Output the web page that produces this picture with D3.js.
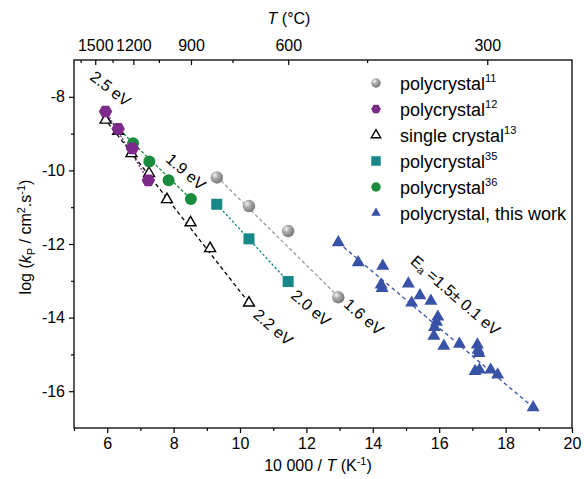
<!DOCTYPE html>
<html>
<head>
<meta charset="utf-8">
<script src="https://cdnjs.cloudflare.com/ajax/libs/d3/7.8.5/d3.min.js"></script>
<style>
  body { margin: 0; background: #fff; }
  text { font-family: "Liberation Sans", Arial, sans-serif; fill: #000; }
</style>
</head>
<body>
<div id="chart"></div>
<script>
// values: [10000/T (1/K), log kP]
var poly11 = [[9.30,-10.19],[10.27,-10.97],[11.45,-11.65],[12.96,-13.45]];
var poly12 = [[5.95,-8.40],[6.33,-8.87],[6.76,-9.40],[7.24,-10.27]];
var single13 = [[5.95,-8.63],[6.33,-8.93],[6.73,-9.54],[7.26,-10.08],[7.80,-10.79],[8.51,-11.42],[9.10,-12.12],[10.27,-13.60]];
var poly35 = [[9.30,-10.92],[10.27,-11.86],[11.45,-13.02]];
var poly36 = [[6.78,-9.26],[7.27,-9.76],[7.85,-10.27],[8.52,-10.78]];
var thisWork = [[12.96,-11.96],[13.56,-12.50],[14.30,-12.60],[14.25,-13.11],[14.28,-13.20],[15.07,-13.08],
  [15.42,-13.40],[15.75,-13.55],[15.17,-13.60],[15.96,-13.98],[15.92,-14.12],[15.86,-14.26],[15.84,-14.50],
  [16.14,-14.77],[16.61,-14.72],[17.15,-14.74],[17.17,-14.88],[17.20,-14.97],[17.08,-15.46],[17.21,-15.42],
  [17.55,-15.42],[17.76,-15.55],[18.83,-16.44]];

// Arrhenius fit lines (end points)
var fit11 = [[9.30,-10.17],[12.96,-13.43]];
var fit12 = [[5.95,-8.40],[7.24,-10.27]];
var fit13 = [[5.90,-8.57],[10.35,-13.69]];
var fit35 = [[9.30,-10.92],[11.45,-13.02]];
var fit36 = [[5.95,-8.53],[8.52,-10.78]];
var fitThis = [[12.96,-11.96],[18.83,-16.44]];

// activation energy labels: text, anchor x, anchor y
var eaText = ["2.5 eV","1.9 eV","2.2 eV","2.0 eV","1.6 eV"];
var eaX = [6.10, 8.37, 11.0, 12.14, 13.73];
var eaY = [-7.78, -10.04, -14.26, -13.74, -13.98];

var xTicks = [6,8,10,12,14,16,18,20];
var xMinor = [5,7,9,11,13,15,17,19];
var yTicks = [-8,-10,-12,-14,-16];
var yMinor = [-9,-11,-13,-15];
var tTicks = [1500,1200,900,600,300];     // deg C
var tMinor = [1650,1350,1050,750,450];

var legendNames = ["polycrystal","polycrystal","single crystal","polycrystal","polycrystal","polycrystal, this work"];
var legendRefs = ["11","12","13","35","36",""];

var colors = {gray:"#9b9b9b", purple:"#7d2a8a", teal:"#178787", green:"#1b8c3e", blue:"#3752a6"};

var margin = {top: 60, right: 12, bottom: 51, left: 74},
    width = 584 - margin.left - margin.right,
    height = 479 - margin.top - margin.bottom;

var svg = d3.select("#chart").append("svg")
    .attr("width", 584).attr("height", 479);

var defs = svg.append("defs");
var grad = defs.append("radialGradient").attr("id","sphere")
    .attr("cx","35%").attr("cy","32%").attr("r","65%");
grad.append("stop").attr("offset","0%").attr("stop-color","#f4f4f4");
grad.append("stop").attr("offset","45%").attr("stop-color","#a9a9a9");
grad.append("stop").attr("offset","100%").attr("stop-color","#7c7c7c");

var g = svg.append("g")
    .attr("transform","translate(" + margin.left + "," + margin.top + ")");

var x = d3.scaleLinear().domain([5,20]).range([0,width]);
var y = d3.scaleLinear().domain([-17,-7]).range([height,0]);
var inv = function(t) { return 10000 / (t + 273.15); };

// axes
function styleAxis(a) {
  a.select(".domain").remove();
  a.selectAll("line").attr("stroke","#000").attr("stroke-width",1.2);
  a.selectAll("text").style("font-size","16px").style("font-family","Liberation Sans, Arial, sans-serif");
}

g.append("g").attr("transform","translate(0," + height + ")")
  .call(d3.axisBottom(x).tickValues(xTicks).tickSize(5).tickPadding(5))
  .call(styleAxis);
g.append("g").attr("transform","translate(0," + height + ")")
  .call(d3.axisBottom(x).tickValues(xMinor).tickSize(3).tickFormat(""))
  .call(styleAxis);

g.append("g")
  .call(d3.axisLeft(y).tickValues(yTicks).tickSize(5).tickPadding(4)
        .tickFormat(function(d) { return String(d); }))
  .call(styleAxis);
g.append("g")
  .call(d3.axisLeft(y).tickValues(yMinor).tickSize(3).tickFormat(""))
  .call(styleAxis);

g.append("g")
  .call(d3.axisTop(x).tickValues(tTicks.map(inv)).tickSize(-5).tickPadding(9)
        .tickFormat(function(d, i) { return tTicks[i]; }))
  .call(styleAxis);
g.append("g")
  .call(d3.axisTop(x).tickValues(tMinor.map(inv)).tickSize(-3).tickFormat(""))
  .call(styleAxis);

g.append("rect").attr("width",width).attr("height",height)
  .attr("fill","none").attr("stroke","#000").attr("stroke-width",1.3);

// axis titles
var xt = svg.append("text").attr("x",318).attr("y",471).attr("text-anchor","middle").style("font-size","16px");
xt.append("tspan").text("10 000 / ");
xt.append("tspan").style("font-style","italic").text("T");
xt.append("tspan").text(" (K");
xt.append("tspan").attr("dy",-6).style("font-size","11px").text("-1");
xt.append("tspan").attr("dy",6).text(")");

var tt = svg.append("text").attr("x",289).attr("y",24).attr("text-anchor","middle").style("font-size","16px");
tt.append("tspan").style("font-style","italic").text("T");
tt.append("tspan").text(" (\u00B0C)");

var yt = svg.append("text").attr("transform","translate(31,237) rotate(-90)")
  .attr("text-anchor","middle").style("font-size","16px");
yt.append("tspan").text("log (");
yt.append("tspan").style("font-style","italic").text("k");
yt.append("tspan").attr("dy",4).style("font-size","11px").text("P");
yt.append("tspan").attr("dy",-4).text(" / cm");
yt.append("tspan").attr("dy",-6).style("font-size","11px").text("2");
yt.append("tspan").attr("dy",6).text(".s");
yt.append("tspan").attr("dy",-6).style("font-size","11px").text("-1");
yt.append("tspan").attr("dy",6).text(")");

// fit lines
var line = d3.line().x(function(d){ return x(d[0]); }).y(function(d){ return y(d[1]); });
function fitLine(pts, color, dash) {
  g.append("path").datum(pts).attr("d", line)
    .attr("fill","none").attr("stroke",color).attr("stroke-width",1.3)
    .attr("stroke-dasharray",dash);
}
fitLine(fit11, colors.gray, "3.5,2.5");
fitLine(fit35, colors.teal, "2.5,2");
fitLine(fit13, "#000", "4,3");
fitLine(fit36, colors.green, "3,2");
fitLine(fit12, colors.purple, "2,1.5");
fitLine(fitThis, colors.blue, "4,3");

// markers
function hexPath(r) {
  var p = [];
  for (var i = 0; i < 6; i++) {
    var a = Math.PI / 3 * i;
    p.push([r * Math.cos(a), r * Math.sin(a)]);
  }
  return "M" + p.join("L") + "Z";
}
function marker(sel, type, s) {
  if (type === "sphere") {
    sel.append("circle").attr("r", s * 0.5).attr("fill","url(#sphere)");
  } else if (type === "hex") {
    sel.append("path").attr("d", hexPath(s * 0.52)).attr("fill", colors.purple);
  } else if (type === "open") {
    sel.append("path").attr("d", d3.symbol(d3.symbolTriangle, s * s * 0.43)())
      .attr("fill","#fff").attr("stroke","#000").attr("stroke-width",1.4);
  } else if (type === "square") {
    sel.append("rect").attr("x",-s/2).attr("y",-s/2).attr("width",s).attr("height",s).attr("fill",colors.teal);
  } else if (type === "circle") {
    sel.append("circle").attr("r", s * 0.5).attr("fill", colors.green);
  } else if (type === "tri") {
    sel.append("path").attr("d", d3.symbol(d3.symbolTriangle, s * s * 0.43)()).attr("fill", colors.blue);
  }
}
function series(data, type, s) {
  g.selectAll(null).data(data).enter().append("g")
    .attr("transform", function(d){ return "translate(" + x(d[0]) + "," + y(d[1]) + ")"; })
    .each(function(){ marker(d3.select(this), type, s); });
}
series(poly11, "sphere", 12.5);
series(poly35, "square", 11);
series(single13, "open", 11);
series(poly36, "circle", 12);
series(poly12, "hex", 13);
series(thisWork, "tri", 13);

// energy labels
eaText.forEach(function(t, i) {
  g.append("text").attr("text-anchor","middle").attr("dominant-baseline","central")
    .attr("transform","translate(" + x(eaX[i]) + "," + y(eaY[i]) + ") rotate(" + (i === 0 ? 38 : 41) + ")")
    .style("font-size","16px").text(t);
});
var ea = g.append("text").attr("text-anchor","middle").attr("dominant-baseline","central")
  .attr("transform","translate(" + x(16.5) + "," + y(-13.39) + ") rotate(41)")
  .style("font-size","16px");
ea.append("tspan").text("E");
ea.append("tspan").attr("dy",4).style("font-size","11px").text("a");
ea.append("tspan").attr("dy",-4).text(" =1.5\u00B1 0.1 eV");

// legend
var leg = svg.append("g").attr("transform","translate(376,83)");
var legTypes = ["sphere","hex","open","square","circle","tri"];
legTypes.forEach(function(t, i) {
  var row = leg.append("g").attr("transform","translate(0," + (i * 26) + ")");
  marker(row, t, 9.5);
  var tx = row.append("text").attr("x",24).attr("y",6.5).style("font-size","18px");
  tx.append("tspan").text(legendNames[i]);
  if (legendRefs[i]) tx.append("tspan").attr("dy",-8).style("font-size","11px").text(legendRefs[i]);
});
</script>
</body>
</html>
